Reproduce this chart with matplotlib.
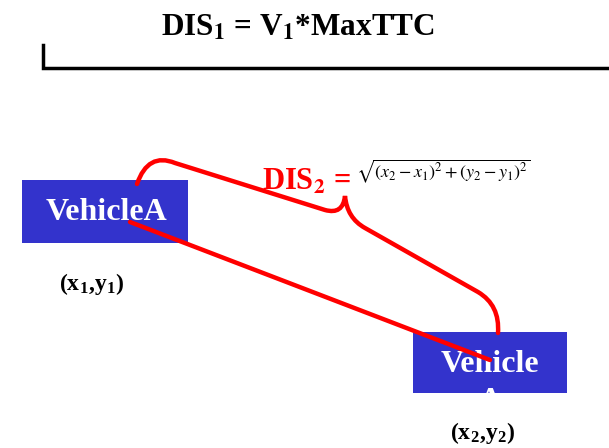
import matplotlib.pyplot as plt
from matplotlib.patches import Rectangle, PathPatch
from matplotlib.path import Path

plt.rcParams['font.family'] = ['Liberation Serif', 'DejaVu Serif']
plt.rcParams['mathtext.fontset'] = 'stix'

# 图中元素 (像素坐标, 原点左上)
title_text = 'DIS$_\\mathbf{1}$ = V$_\\mathbf{1}$*MaxTTC'
dis2_text = 'DIS$_\\mathbf{2}$ ='
formula_text = r'$\sqrt{(x_2-x_1)^2+(y_2-y_1)^2}$'
vehicle_labels = ['VehicleA', 'Vehicle\nA']
coord_labels = ['(x$_\\mathregular{1}$,y$_\\mathregular{1}$)', '(x$_\\mathregular{2}$,y$_\\mathregular{2}$)']
boxes = [(22, 180, 166, 63), (413, 332, 154, 61)]
box_text_pos = [(107, 212), (490, 383)]
coord_pos = [(92, 284), (483, 433)]
link_x = [130, 490]
link_y = [222, 360]
bracket_x = [43, 43, 609]
bracket_y = [45, 68, 68]
brace_pts = [(137, 184), (148, 152), (175, 163), (325, 210),
             (343, 215), (345, 196), (347, 218), (365, 228),
             (478, 292), (500, 305), (498, 333)]
brace_codes = [Path.MOVETO, Path.CURVE3, Path.CURVE3, Path.LINETO,
               Path.CURVE3, Path.CURVE3, Path.CURVE3, Path.CURVE3,
               Path.LINETO, Path.CURVE3, Path.CURVE3]

BLUE = '#3333cc'
RED = '#ff0000'

fig = plt.figure(figsize=(6.09, 4.48), dpi=100)
ax = fig.add_axes([0, 0, 1, 1])
ax.set_xlim(0, 609)
ax.set_ylim(448, 0)
ax.axis('off')

# 顶部标题和括线
ax.text(298, 28, title_text, fontsize=22.5, fontweight='bold', ha='center', va='center')
ax.plot(bracket_x, bracket_y, color='black', linewidth=2.5, solid_joinstyle='miter')

# 车辆方块 (文字裁剪在方块内, 第二个 "A" 只露出顶部)
for (x, y, w, h), label, (tx, ty) in zip(boxes, vehicle_labels, box_text_pos):
    rect = Rectangle((x, y), w, h, facecolor=BLUE, edgecolor='none', zorder=2)
    ax.add_patch(rect)
    t = ax.text(tx, ty, label, color='white', fontsize=23, fontweight='bold',
                ha='center', va='center', linespacing=1.35, zorder=3)
    t.set_clip_path(rect)

for label, (tx, ty) in zip(coord_labels, coord_pos):
    ax.text(tx, ty, label, fontsize=17, fontweight='bold', ha='center', va='center')

# 红色连线与大括号
ax.plot(link_x, link_y, color=RED, linewidth=3.2, solid_capstyle='round', zorder=4)
brace = Path(brace_pts, brace_codes)
ax.add_patch(PathPatch(brace, facecolor='none', edgecolor=RED, linewidth=3.2,
                       capstyle='round', zorder=4))

ax.text(262, 182, dis2_text, color=RED, fontsize=22, fontweight='bold',
        ha='left', va='center')
ax.text(356, 171, formula_text, fontsize=13, ha='left', va='center')

fig.savefig('out.png', dpi=100)
